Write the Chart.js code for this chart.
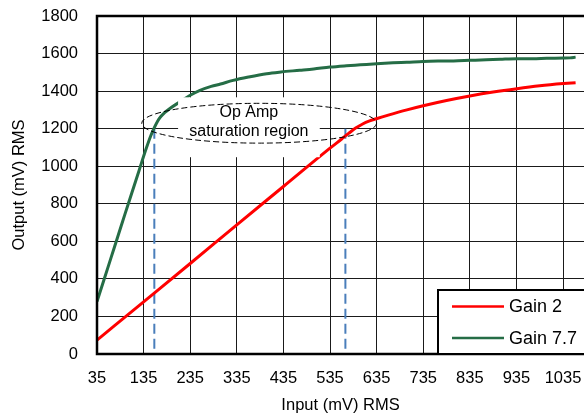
<!DOCTYPE html>
<html><head><meta charset="utf-8">
<script src="https://cdn.jsdelivr.net/npm/chart.js@4/dist/chart.umd.min.js"></script>
<style>html,body{margin:0;padding:0;background:#fff}#wrap{width:584px;height:418px;position:relative}</style>
</head><body><div id="wrap"><canvas id="c" width="584" height="418"></canvas></div>
<script>
// ---- data ----
const xTickValues = [35,135,235,335,435,535,635,735,835,935,1035];
const yTickValues = [0,200,400,600,800,1000,1200,1400,1600,1800];
const seriesNames = ['Gain 2','Gain 7.7'];
const gain2X = [35,135,235,335,435,535,560,575,590,605,620,636,660,700,735,785,835,885,936,985,1036,1062];
const gain2Y = [74,278,482,688,892,1096,1145,1175,1203,1225,1241,1254,1272,1300,1322,1350,1374,1395,1413,1428,1440,1445];
const gain77X = [35,50,65,80,95,110,125,140,150,158,165,172,180,190,213,235,256,280,300,327,360,399,430,470,500,535,570,600,635,670,700,735,770,800,835,870,900,936,970,1000,1036,1050,1062];
const gain77Y = [280,395,512,628,745,860,975,1090,1160,1205,1240,1265,1285,1305,1343,1378,1404,1425,1438,1457,1475,1493,1502,1511,1518,1528,1535,1540,1546,1551,1554,1558,1560,1561,1564,1567,1570,1573,1573,1575,1576,1577,1581];
const markerX = [158, 568];
const markerTop = 1200;
const noteLines = ['Op Amp','saturation region'];

// annotation geometry (data units)
const noteBox = {x0: 209, x1: 513, y0: 1048, y1: 1367};
const noteEllipse = {cx: 383, cy: 1229, rx: 252, ry: 106};
const noteText = {x: 361, y: [1263, 1162]};

const FONT = '"Liberation Sans", Arial, sans-serif';
const RED = '#FF0000', GREEN = '#256D46', BLUE = '#4A7EBB';

const toPts = (xs, ys) => xs.map((x, i) => ({x, y: ys[i]}));

const datasets = [
  {label: seriesNames[0], data: toPts(gain2X, gain2Y), borderColor: RED, borderWidth: 3, pointRadius: 0, cubicInterpolationMode: 'monotone'},
  {label: seriesNames[1], data: toPts(gain77X, gain77Y), borderColor: GREEN, borderWidth: 3, pointRadius: 0, cubicInterpolationMode: 'monotone'}
];
markerX.forEach(mx => datasets.push({label: '', data: [{x: mx, y: markerTop}, {x: mx, y: 0}], borderColor: BLUE, borderWidth: 2, borderDash: [10, 5], pointRadius: 0}));

const overlay = {
  id: 'overlay',
  afterDatasetsDraw(chart) {
    const {ctx, chartArea: ca, scales: {x, y}} = chart;
    ctx.save();
    // white text box
    const bx0 = x.getPixelForValue(noteBox.x0), bx1 = x.getPixelForValue(noteBox.x1);
    const by0 = y.getPixelForValue(noteBox.y1), by1 = y.getPixelForValue(noteBox.y0);
    ctx.fillStyle = '#fff';
    ctx.fillRect(bx0, by0, bx1 - bx0, by1 - by0);
    // ellipse
    const cx = x.getPixelForValue(noteEllipse.cx), cy = y.getPixelForValue(noteEllipse.cy);
    const rx = x.getPixelForValue(noteEllipse.cx + noteEllipse.rx) - cx;
    const ry = cy - y.getPixelForValue(noteEllipse.cy + noteEllipse.ry);
    ctx.beginPath();
    ctx.ellipse(cx, cy, rx, ry, 0, 0, Math.PI * 2);
    ctx.setLineDash([6, 3]);
    ctx.lineWidth = 1;
    ctx.strokeStyle = '#000';
    ctx.stroke();
    ctx.setLineDash([]);
    // text
    ctx.fillStyle = '#000';
    ctx.font = '16px ' + FONT;
    ctx.textAlign = 'center';
    ctx.textBaseline = 'alphabetic';
    noteLines.forEach((t, i) => ctx.fillText(t, x.getPixelForValue(noteText.x), y.getPixelForValue(noteText.y[i])));
    // frame (top, left, bottom)
    ctx.strokeStyle = '#000';
    ctx.lineWidth = 2.5;
    ctx.beginPath();
    ctx.moveTo(ca.right + 2, ca.top);
    ctx.lineTo(ca.left, ca.top);
    ctx.lineTo(ca.left, ca.bottom);
    ctx.lineTo(ca.right + 2, ca.bottom);
    ctx.stroke();
    // legend
    const lx = 438, ly = 290;
    ctx.fillStyle = '#fff';
    ctx.fillRect(lx, ly, 160, ca.bottom - ly);
    ctx.lineWidth = 2;
    ctx.strokeRect(lx, ly, 160, ca.bottom - ly);
    const rows = [306.5, 338];
    [0, 1].forEach(i => {
      const ds = chart.data.datasets[i];
      ctx.strokeStyle = ds.borderColor;
      ctx.lineWidth = 2.5;
      ctx.beginPath();
      ctx.moveTo(452, rows[i]);
      ctx.lineTo(504, rows[i]);
      ctx.stroke();
      ctx.fillStyle = '#000';
      ctx.font = '18px ' + FONT;
      ctx.textAlign = 'left';
      ctx.textBaseline = 'middle';
      ctx.fillText(ds.label, 509, rows[i] + 1);
    });
    ctx.restore();
  }
};

new Chart(document.getElementById('c'), {
  type: 'line',
  data: {datasets},
  options: {
    responsive: false,
    animation: false,
    devicePixelRatio: 1,
    layout: {padding: {top: 16, right: 0, left: 0, bottom: 0}},
    plugins: {legend: {display: false}, tooltip: {enabled: false}},
    scales: {
      x: {
        type: 'linear', min: 35, max: 1080,
        afterBuildTicks: s => { s.ticks = xTickValues.map(v => ({value: v})); },
        afterFit: s => { s.height = 64; s.paddingLeft = 0; s.paddingRight = 0; },
        grid: {color: '#1a1a1a', lineWidth: 1, drawTicks: false},
        border: {display: false},
        ticks: {color: '#000', font: {family: FONT, size: 16.5}, padding: 15, maxRotation: 0, autoSkip: false, callback: v => String(v)},
        title: {display: true, text: 'Input (mV) RMS', color: '#000', font: {family: FONT, size: 16.5}, padding: {top: 0, bottom: 3}}
      },
      y: {
        min: 0, max: 1800,
        afterBuildTicks: s => { s.ticks = yTickValues.map(v => ({value: v})); },
        afterFit: s => { s.width = 97; s.paddingTop = 0; s.paddingBottom = 0; },
        grid: {color: '#1a1a1a', lineWidth: 1, drawTicks: false},
        border: {display: false},
        ticks: {color: '#000', font: {family: FONT, size: 16.5}, padding: 19, callback: v => String(v)},
        title: {display: true, text: 'Output (mV) RMS', color: '#000', font: {family: FONT, size: 16.5}, padding: {top: 10, bottom: 0}}
      }
    }
  },
  plugins: [overlay]
});
</script>
</body></html>
